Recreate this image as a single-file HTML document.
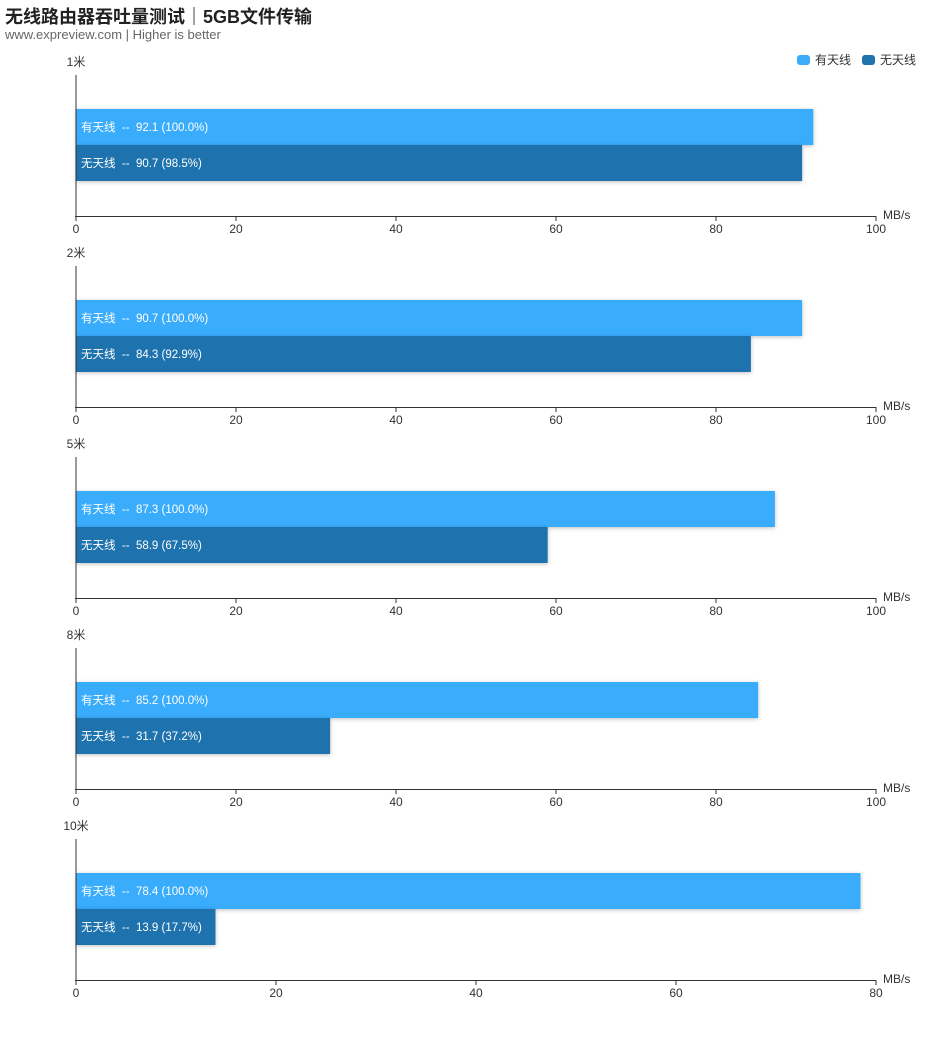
<!DOCTYPE html>
<html><head><meta charset="utf-8">
<style>
body{margin:0;background:#fff;font-family:"Liberation Sans","Noto Sans CJK SC",sans-serif;}
#wrap{position:relative;width:952px;height:1043px;overflow:hidden}
.title{position:absolute;left:5px;top:3px;font-size:18px;font-weight:bold;color:#222}
.sub{position:absolute;left:5px;top:27px;font-size:13px;color:#666}
svg text{white-space:pre}
</style></head><body>
<div id="wrap">
<div class="title">无线路由器吞吐量测试｜5GB文件传输</div>
<div class="sub">www.expreview.com | Higher is better</div>
<svg id="svg" width="952" height="1043" style="position:absolute;left:0;top:0"></svg>
</div>
<script>
const categories = ["1米","2米","5米","8米","10米"];
const seriesNames = ["有天线","无天线"];
const withAntenna = [92.1, 90.7, 87.3, 85.2, 78.4];
const withoutAntenna = [90.7, 84.3, 58.9, 31.7, 13.9];
const axisMax = [100, 100, 100, 100, 80];
const tickStep = [20, 20, 20, 20, 20];
const colors = ["#3aacfc", "#1e72ad"];

const NS = "http://www.w3.org/2000/svg";
const svg = document.getElementById('svg');
function mk(tag, attrs, parent){
  const e = document.createElementNS(NS, tag);
  for (const k in attrs) e.setAttribute(k, attrs[k]);
  (parent||svg).appendChild(e);
  return e;
}
seriesNames.forEach((n,i)=>{
  const g = mk('g',{});
  
  
  const x = i===0 ? 797 : 862;
  mk('rect',{x:x,y:55,width:13,height:10,rx:3,fill:colors[i]},g);
  const t = mk('text',{x:x+18,y:64,'font-size':12,fill:'#333'},g);
  t.textContent = n;
});
const x0 = 76, x1 = 876;
categories.forEach((cat, i)=>{
  const ay = 216 + 191*i;
  const g = mk('g',{});
  
  
  const sx = v => x0 + (x1-x0)*v/axisMax[i];
  const ct = mk('text',{x:x0,y:ay-150,'font-size':12,fill:'#333','text-anchor':'middle'},g);
  ct.textContent = cat;
  
  
  mk('line',{x1:x0,y1:ay-141,x2:x0,y2:ay,stroke:'#333','stroke-width':1},g);
  const vals = [withAntenna[i], withoutAntenna[i]];
  vals.forEach((v,s)=>{
    const by = ay - 107 + 36*s;
    const r = mk('rect',{x:x0+0.5,y:by,width:sx(v)-x0,height:36,fill:colors[s],style:'filter:drop-shadow(0 1px 2px rgba(0,0,0,0.25))'},g);
    
    
    const pct = (v/vals[0]*100).toFixed(1);
    const t = mk('text',{x:x0+5,y:by+22,'font-size':11.5,fill:'#fff'},g);
    t.textContent = seriesNames[s] + '  --  ' + v.toFixed(1) + ' (' + pct + '%)';
    
    
  });
  mk('line',{x1:x0-1,y1:ay+0.5,x2:x1,y2:ay+0.5,stroke:'#333','stroke-width':1},g);
  for (let v=0; v<=axisMax[i]; v+=tickStep[i]){
    const x = sx(v);
    mk('line',{x1:x,y1:ay,x2:x,y2:ay+5,stroke:'#333','stroke-width':1},g);
    const t = mk('text',{x:x,y:ay+17,'font-size':12,fill:'#333','text-anchor':'middle'},g);
    t.textContent = v;
  }
  const u = mk('text',{x:883,y:ay+3,'font-size':12,fill:'#333'},g);
  u.textContent = 'MB/s';
});
</script>
</body></html>
